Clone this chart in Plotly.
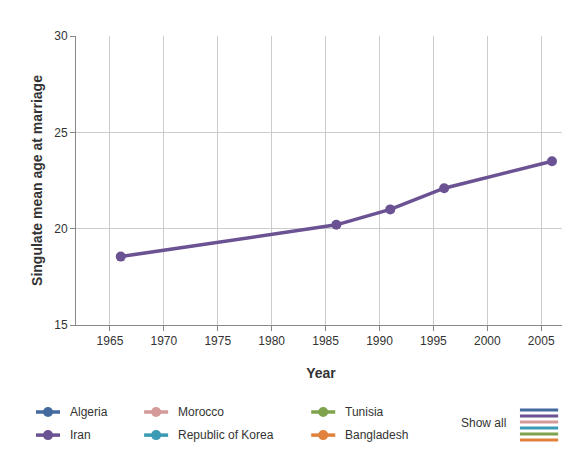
import plotly.graph_objects as go

years = [1966, 1986, 1991, 1996, 2006]
iran_smam = [18.55, 20.2, 21.0, 22.1, 23.5]

countries = ['Algeria', 'Morocco', 'Tunisia', 'Iran', 'Republic of Korea', 'Bangladesh']
colors = ['#44699f', '#d49a98', '#7ea34c', '#6b5293', '#3b9bb5', '#e0823c']

fig = go.Figure()
fig.add_trace(go.Scatter(x=years, y=iran_smam, mode='lines+markers', name='Iran',
                         line=dict(color=colors[3], width=3.5),
                         marker=dict(size=10, color=colors[3])))

# hand-made legend: 3 columns x 2 rows (paper coords)
col_x = [-0.0816, 0.139, 0.48]
row_y = [-0.301, -0.381]
for i, (name, col) in enumerate(zip(countries, colors)):
    x0 = col_x[i % 3]
    y0 = row_y[i // 3]
    fig.add_shape(type='line', xref='paper', yref='paper', x0=x0, x1=x0 + 0.049, y0=y0, y1=y0,
                  line=dict(color=col, width=3.5))
    fig.add_shape(type='circle', xref='paper', yref='paper', xsizemode='pixel', ysizemode='pixel',
                  xanchor=x0 + 0.0245, yanchor=y0, x0=-5, x1=5, y0=-5, y1=5,
                  fillcolor=col, line=dict(color=col, width=0))
    fig.add_annotation(text=name, xref='paper', yref='paper', x=x0 + 0.065, y=y0,
                       showarrow=False, xanchor='left', yanchor='middle',
                       font=dict(size=12, color='#333'))

# "Show all" stack of coloured bars
fig.add_annotation(text='Show all', xref='paper', yref='paper', x=0.882, y=-0.339,
                   showarrow=False, xanchor='right', yanchor='middle', font=dict(size=12, color='#333'))
stack = ['#44699f', '#6b5293', '#d49a98', '#3b9bb5', '#7ea34c', '#e0823c']
for i, c in enumerate(stack):
    yy = -0.294 - i * 0.0208
    fig.add_shape(type='line', xref='paper', yref='paper', x0=0.906, x1=0.984, y0=yy, y1=yy,
                  line=dict(color=c, width=3))

fig.update_layout(
    width=570, height=450,
    margin=dict(l=68, r=12, t=28, b=133),
    showlegend=False,
    plot_bgcolor='white', paper_bgcolor='white',
    font=dict(family='Liberation Sans, Arial', size=12, color='#333'),
    xaxis=dict(range=[1961.85, 2007.3], tickvals=list(range(1965, 2006, 5)),
               showgrid=True, gridcolor='#cccccc', showline=True, linecolor='#888',
               ticks='outside', tickcolor='#888', ticklen=5, automargin=False,
               title=dict(text='<b>Year</b>', standoff=20)),
    yaxis=dict(range=[15, 30], tickvals=[15, 20, 25, 30], showgrid=True, gridcolor='#cccccc',
               showline=True, linecolor='#888', ticks='outside', tickcolor='#888', ticklen=5,
               zeroline=False, automargin=False,
               title=dict(text='<b>Singulate mean age at marriage</b>', standoff=8)),
)

fig.write_html('out.html')
